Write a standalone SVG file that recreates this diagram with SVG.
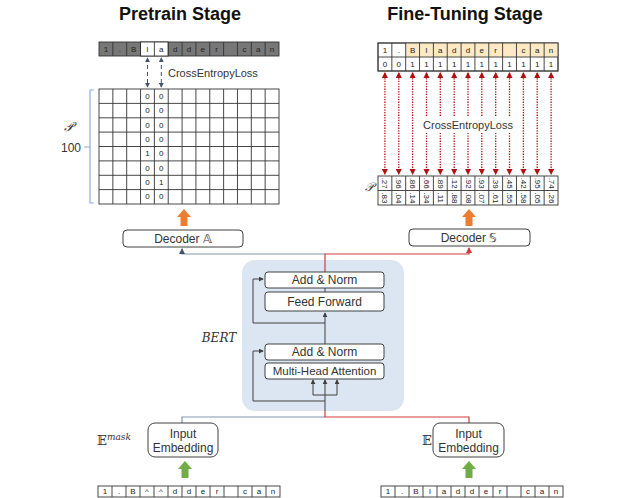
<svg xmlns="http://www.w3.org/2000/svg" width="623" height="498" viewBox="0 0 623 498">
<style>
text{font-family:"Liberation Sans",Arial,sans-serif;fill:#222}
.title{font-size:18px;font-weight:bold;text-anchor:middle;fill:#111}
.c{font-size:8px;text-anchor:middle;dominant-baseline:central}
.lbl{font-size:11px;text-anchor:middle;dominant-baseline:central;fill:#333}
.big{font-size:12px}
.box{fill:#fff;stroke:#404040;stroke-width:1}
.grid{fill:none;stroke:#333;stroke-width:0.9}
.math{font-family:"DejaVu Serif","Liberation Serif",serif;fill:#333}
.blue{stroke:#8497b0;stroke-width:1.2;fill:none}
.red{stroke:#d23a3a;stroke-width:1.2;fill:none}
.dark{stroke:#404040;stroke-width:1;fill:none}
.rdot{stroke:#b01010;stroke-width:1.3;stroke-dasharray:1.3,1.3;fill:none}
.dash{stroke:#44546a;stroke-width:1;stroke-dasharray:4,3;fill:none}
</style>
<defs>
<marker id="ad" viewBox="0 0 6 6" refX="5" refY="3" markerWidth="5" markerHeight="5" orient="auto-start-reverse"><path d="M0,0L6,3L0,6z" fill="#404040"/></marker>
<marker id="ab" viewBox="0 0 6 6" refX="5" refY="3" markerWidth="5" markerHeight="5" orient="auto-start-reverse"><path d="M0,0L6,3L0,6z" fill="#44546a"/></marker>
<marker id="ar" viewBox="0 0 6 6" refX="5" refY="3" markerWidth="5" markerHeight="5" orient="auto-start-reverse"><path d="M0,0L6,3L0,6z" fill="#b01010"/></marker>
<marker id="arr" viewBox="0 0 6 6" refX="5" refY="3" markerWidth="5" markerHeight="5" orient="auto"><path d="M0,0L6,3L0,6z" fill="#d23a3a"/></marker>
<marker id="abl" viewBox="0 0 6 6" refX="5" refY="3" markerWidth="5" markerHeight="5" orient="auto"><path d="M0,0L6,3L0,6z" fill="#44546a"/></marker>
<path id="upO" d="M-7,0 L0,-8 L7,0 L3.5,0 L3.5,9 L-3.5,9 L-3.5,0 Z"/>
</defs>

<text class="title" x="180" y="20">Pretrain Stage</text>
<text class="title" x="465" y="20">Fine-Tuning Stage</text>

<!-- Pretrain token row -->
<g id="pretrain-tokens">
<rect x="99" y="42" width="180" height="14" fill="#777" stroke="#333" stroke-width="0.9"/>
<rect x="140.54" y="42" width="27.69" height="14" fill="#fff" stroke="#333" stroke-width="0.9"/>
<path class="grid" d="M112.85,42V56M126.69,42V56M140.54,42V56M154.38,42V56M168.23,42V56M182.08,42V56M195.92,42V56M209.77,42V56M223.62,42V56M237.46,42V56M251.31,42V56M265.15,42V56"/>
<text class="c" x="105.9" y="49">1</text><text class="c" x="119.8" y="49">.</text><text class="c" x="133.6" y="49">B</text><text class="c" x="147.5" y="49">l</text><text class="c" x="161.3" y="49">a</text><text class="c" x="175.2" y="49">d</text><text class="c" x="189" y="49">d</text><text class="c" x="202.8" y="49">e</text><text class="c" x="216.7" y="49">r</text><text class="c" x="244.4" y="49">c</text><text class="c" x="258.2" y="49">a</text><text class="c" x="272.1" y="49">n</text>
</g>

<!-- Pretrain probability grid -->
<g id="pretrain-grid">
<rect class="grid" x="99" y="89" width="180" height="115"/>
<path class="grid" d="M112.85,89V204M126.69,89V204M140.54,89V204M154.38,89V204M168.23,89V204M182.08,89V204M195.92,89V204M209.77,89V204M223.62,89V204M237.46,89V204M251.31,89V204M265.15,89V204M99,103.4H279M99,117.8H279M99,132.1H279M99,146.5H279M99,160.9H279M99,175.3H279M99,189.6H279"/>
<text class="c" x="147.5" y="96.2">0</text><text class="c" x="161.3" y="96.2">0</text>
<text class="c" x="147.5" y="110.6">0</text><text class="c" x="161.3" y="110.6">0</text>
<text class="c" x="147.5" y="125">0</text><text class="c" x="161.3" y="125">0</text>
<text class="c" x="147.5" y="139.3">0</text><text class="c" x="161.3" y="139.3">0</text>
<text class="c" x="147.5" y="153.7">1</text><text class="c" x="161.3" y="153.7">0</text>
<text class="c" x="147.5" y="168.1">0</text><text class="c" x="161.3" y="168.1">0</text>
<text class="c" x="147.5" y="182.5">0</text><text class="c" x="161.3" y="182.5">1</text>
<text class="c" x="147.5" y="196.8">0</text><text class="c" x="161.3" y="196.8">0</text>
<path d="M94,90H90V203H94M90,147H84" fill="none" stroke="#8faadc" stroke-width="1.2"/>
<text class="lbl" x="71" y="148" style="font-size:12px">100</text>
<text class="math" x="68" y="131" style="font-size:13px;font-style:italic;text-anchor:middle">𝒫</text>
</g>

<g id="pretrain-loss">
<line class="dash" x1="147.5" y1="58" x2="147.5" y2="87" marker-start="url(#ab)" marker-end="url(#ab)"/>
<line class="dash" x1="161.3" y1="58" x2="161.3" y2="87" marker-start="url(#ab)" marker-end="url(#ab)"/>
<text class="lbl" x="168" y="73" style="text-anchor:start">CrossEntropyLoss</text>
</g>

<!-- Fine-tune label table -->
<g id="finetune-tokens">
<rect x="378" y="43" width="180" height="28" fill="#fff" stroke="#333" stroke-width="0.9"/>
<rect x="405.69" y="43" width="152.31" height="14" fill="#fde9c4"/>
<rect class="grid" x="378" y="43" width="180" height="28"/>
<path class="grid" d="M378,57H558M391.85,43V71M405.69,43V71M419.54,43V71M433.38,43V71M447.23,43V71M461.08,43V71M474.92,43V71M488.77,43V71M502.62,43V71M516.46,43V71M530.31,43V71M544.15,43V71"/>
<text class="c" x="384.9" y="50">1</text><text class="c" x="398.8" y="50">.</text><text class="c" x="412.6" y="50">B</text><text class="c" x="426.5" y="50">l</text><text class="c" x="440.3" y="50">a</text><text class="c" x="454.2" y="50">d</text><text class="c" x="468" y="50">d</text><text class="c" x="481.8" y="50">e</text><text class="c" x="495.7" y="50">r</text><text class="c" x="523.4" y="50">c</text><text class="c" x="537.2" y="50">a</text><text class="c" x="551.1" y="50">n</text>
<text class="c" x="384.9" y="64">0</text><text class="c" x="398.8" y="64">0</text><text class="c" x="412.6" y="64">1</text><text class="c" x="426.5" y="64">1</text><text class="c" x="440.3" y="64">1</text><text class="c" x="454.2" y="64">1</text><text class="c" x="468" y="64">1</text><text class="c" x="481.8" y="64">1</text><text class="c" x="495.7" y="64">1</text><text class="c" x="509.5" y="64">1</text><text class="c" x="523.4" y="64">1</text><text class="c" x="537.2" y="64">1</text><text class="c" x="551.1" y="64">1</text>
</g>

<g id="connectors-finetune-loss">
<path class="rdot" marker-start="url(#ar)" marker-end="url(#ar)" d="M384.9,73V174"/>
<path class="rdot" marker-start="url(#ar)" marker-end="url(#ar)" d="M398.8,73V174"/>
<path class="rdot" marker-start="url(#ar)" marker-end="url(#ar)" d="M412.6,73V174"/>
<path class="rdot" marker-start="url(#ar)" marker-end="url(#ar)" d="M426.5,73V174"/>
<path class="rdot" marker-start="url(#ar)" marker-end="url(#ar)" d="M440.3,73V174"/>
<path class="rdot" marker-start="url(#ar)" marker-end="url(#ar)" d="M454.2,73V174"/>
<path class="rdot" marker-start="url(#ar)" marker-end="url(#ar)" d="M468,73V174"/>
<path class="rdot" marker-start="url(#ar)" marker-end="url(#ar)" d="M481.8,73V174"/>
<path class="rdot" marker-start="url(#ar)" marker-end="url(#ar)" d="M495.7,73V174"/>
<path class="rdot" marker-start="url(#ar)" marker-end="url(#ar)" d="M509.5,73V174"/>
<path class="rdot" marker-start="url(#ar)" marker-end="url(#ar)" d="M523.4,73V174"/>
<path class="rdot" marker-start="url(#ar)" marker-end="url(#ar)" d="M537.2,73V174"/>
<path class="rdot" marker-start="url(#ar)" marker-end="url(#ar)" d="M551.1,73V174"/>
<rect x="423" y="117" width="90" height="16" fill="#fff"/>
<text class="lbl" x="468" y="125">CrossEntropyLoss</text>
</g>

<!-- Fine-tune probability table -->
<g id="finetune-probs">
<rect x="378" y="176" width="180" height="29" fill="#fff"/>
<rect class="grid" x="378" y="176" width="180" height="29"/>
<path class="grid" d="M378,190.5H558M391.85,176V205M405.69,176V205M419.54,176V205M433.38,176V205M447.23,176V205M461.08,176V205M474.92,176V205M488.77,176V205M502.62,176V205M516.46,176V205M530.31,176V205M544.15,176V205"/>
<text class="c" transform="translate(384.9,183.2) rotate(90)">.27</text><text class="c" transform="translate(398.8,183.2) rotate(90)">.96</text><text class="c" transform="translate(412.6,183.2) rotate(90)">.86</text><text class="c" transform="translate(426.5,183.2) rotate(90)">.66</text><text class="c" transform="translate(440.3,183.2) rotate(90)">.89</text><text class="c" transform="translate(454.2,183.2) rotate(90)">.12</text><text class="c" transform="translate(468,183.2) rotate(90)">.92</text><text class="c" transform="translate(481.8,183.2) rotate(90)">.93</text><text class="c" transform="translate(495.7,183.2) rotate(90)">.39</text><text class="c" transform="translate(509.5,183.2) rotate(90)">.45</text><text class="c" transform="translate(523.4,183.2) rotate(90)">.42</text><text class="c" transform="translate(537.2,183.2) rotate(90)">.95</text><text class="c" transform="translate(551.1,183.2) rotate(90)">.74</text>
<text class="c" transform="translate(384.9,197.8) rotate(90)">.83</text><text class="c" transform="translate(398.8,197.8) rotate(90)">.04</text><text class="c" transform="translate(412.6,197.8) rotate(90)">.14</text><text class="c" transform="translate(426.5,197.8) rotate(90)">.34</text><text class="c" transform="translate(440.3,197.8) rotate(90)">.11</text><text class="c" transform="translate(454.2,197.8) rotate(90)">.88</text><text class="c" transform="translate(468,197.8) rotate(90)">.08</text><text class="c" transform="translate(481.8,197.8) rotate(90)">.07</text><text class="c" transform="translate(495.7,197.8) rotate(90)">.61</text><text class="c" transform="translate(509.5,197.8) rotate(90)">.55</text><text class="c" transform="translate(523.4,197.8) rotate(90)">.58</text><text class="c" transform="translate(537.2,197.8) rotate(90)">.05</text><text class="c" transform="translate(551.1,197.8) rotate(90)">.26</text>
<text class="math" x="369" y="191" style="font-size:12px;font-style:italic;text-anchor:middle">𝒫</text>
</g>

<!-- Orange arrows -->
<use href="#upO" x="184" y="217" fill="#ed7d31"/>
<use href="#upO" x="469" y="217" fill="#ed7d31"/>

<!-- Decoders -->
<g id="decoder-a">
<rect class="box" x="123" y="230" width="120" height="17" rx="4"/>
<text class="lbl big" x="183" y="238.5">Decoder 𝔸</text>
</g>
<g id="decoder-s">
<rect class="box" x="409" y="229" width="121" height="17" rx="4"/>
<text class="lbl big" x="469" y="237.5">Decoder 𝕊</text>
</g>

<!-- BERT block -->
<g id="bert">
<rect x="242" y="260" width="162" height="151" rx="13" fill="#dce6f2"/>
<text class="math" x="219" y="342" style="font-size:12px;font-style:italic;text-anchor:middle">BERT</text>
</g>

<g id="connectors">
<path class="blue" d="M325,254H182V249" marker-end="url(#abl)"/>
<path class="red" d="M325,272V254H469V248" marker-end="url(#arr)"/>
<path class="blue" d="M325,417H182V423"/>
<path class="red" d="M325,411V417H469V423"/>
<path class="dark" d="M325,411V380" marker-end="url(#ad)"/>
<path class="dark" d="M313,395H337"/>
<path class="dark" d="M313,395V380" marker-end="url(#ad)"/>
<path class="dark" d="M337,395V380" marker-end="url(#ad)"/>
<path class="dark" d="M325,401H253V351H263" marker-end="url(#ad)"/>
<path class="dark" d="M325,360V313" marker-end="url(#ad)"/>
<path class="dark" d="M325,323H253V279H263" marker-end="url(#ad)"/>
<path class="dark" d="M325,288V292"/>
</g>

<g id="add-norm-top"><rect class="box" x="265" y="272" width="119" height="16" rx="3"/><text class="lbl big" x="324.5" y="280">Add &amp; Norm</text></g>
<g id="feed-forward"><rect class="box" x="265" y="292" width="119" height="19" rx="3"/><text class="lbl big" x="324.5" y="301.5">Feed Forward</text></g>
<g id="add-norm-bottom"><rect class="box" x="265" y="344" width="119" height="16" rx="3"/><text class="lbl big" x="324.5" y="352">Add &amp; Norm</text></g>
<g id="mha"><rect class="box" x="265" y="363" width="119" height="16" rx="3"/><text class="lbl" x="324.5" y="371" style="font-size:11.5px">Multi-Head Attention</text></g>

<!-- Input embeddings -->
<g id="input-embedding-mask">
<rect class="box" x="148" y="423" width="70" height="34" rx="7"/>
<text class="lbl big" x="183" y="434">Input</text>
<text class="lbl big" x="183" y="447.5">Embedding</text>
<text class="math" x="114" y="445" style="font-size:13px;text-anchor:middle">𝔼<tspan style="font-size:9px;font-style:italic" dy="-5">mask</tspan></text>
</g>
<g id="input-embedding">
<rect class="box" x="433" y="423" width="71" height="34" rx="7"/>
<text class="lbl big" x="468.5" y="434">Input</text>
<text class="lbl big" x="468.5" y="447.5">Embedding</text>
<text class="math" x="427" y="445" style="font-size:13px;text-anchor:middle">𝔼</text>
</g>

<use href="#upO" x="185" y="469" fill="#70ad47"/>
<use href="#upO" x="469" y="469" fill="#70ad47"/>

<g id="input-tokens-mask">
<rect class="grid" x="98" y="486" width="182" height="11" fill="#fff"/>
<path class="grid" d="M112,486V497M126,486V497M140,486V497M154,486V497M168,486V497M182,486V497M196,486V497M210,486V497M224,486V497M238,486V497M252,486V497M266,486V497"/>
<text class="c" x="105" y="491.5">1</text><text class="c" x="119" y="491.5">.</text><text class="c" x="133" y="491.5">B</text><text class="c" x="147" y="491.5">^</text><text class="c" x="161" y="491.5">^</text><text class="c" x="175" y="491.5">d</text><text class="c" x="189" y="491.5">d</text><text class="c" x="203" y="491.5">e</text><text class="c" x="217" y="491.5">r</text><text class="c" x="245" y="491.5">c</text><text class="c" x="259" y="491.5">a</text><text class="c" x="273" y="491.5">n</text>
</g>
<g id="input-tokens">
<rect class="grid" x="381" y="486" width="182" height="11" fill="#fff"/>
<path class="grid" d="M395,486V497M409,486V497M423,486V497M437,486V497M451,486V497M465,486V497M479,486V497M493,486V497M507,486V497M521,486V497M535,486V497M549,486V497"/>
<text class="c" x="388" y="491.5">1</text><text class="c" x="402" y="491.5">.</text><text class="c" x="416" y="491.5">B</text><text class="c" x="430" y="491.5">l</text><text class="c" x="444" y="491.5">a</text><text class="c" x="458" y="491.5">d</text><text class="c" x="472" y="491.5">d</text><text class="c" x="486" y="491.5">e</text><text class="c" x="500" y="491.5">r</text><text class="c" x="528" y="491.5">c</text><text class="c" x="542" y="491.5">a</text><text class="c" x="556" y="491.5">n</text>
</g>
</svg>
